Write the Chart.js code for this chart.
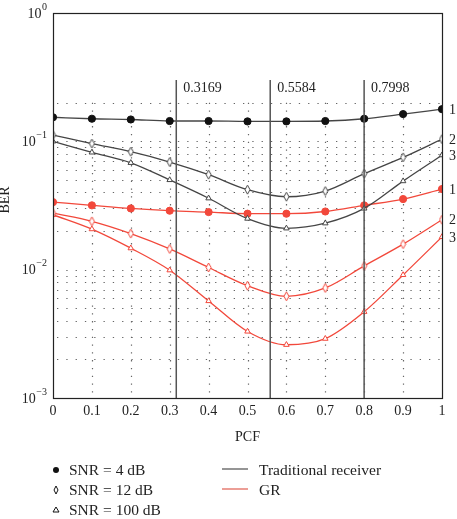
<!DOCTYPE html>
<html>
<head>
<meta charset="utf-8">
<style>
  html, body { margin: 0; padding: 0; background: #fff; }
  #wrap { width: 457px; height: 519px; position: relative; }
</style>
<script src="https://cdn.jsdelivr.net/npm/chart.js@4/dist/chart.umd.min.js"></script>
</head>
<body>
<div id="wrap"><canvas id="ber-chart" width="457" height="519"></canvas></div>
<script>
// --- Data ---
const pcf = [0, 0.1, 0.2, 0.3, 0.4, 0.5, 0.6, 0.7, 0.8, 0.9, 1];

// Traditional receiver
const trSnr4 = [0.154, 0.150, 0.148, 0.144, 0.144, 0.143, 0.143, 0.144, 0.150, 0.163, 0.178];
const trSnr12 = [0.112, 0.096, 0.083, 0.069, 0.055, 0.042, 0.037, 0.041, 0.056, 0.075, 0.104];
const trSnr100 = [0.100, 0.082, 0.068, 0.050, 0.036, 0.025, 0.021, 0.023, 0.030, 0.049, 0.078];

// GR
const grSnr4 = [0.0336, 0.0317, 0.0300, 0.0288, 0.0281, 0.0273, 0.0273, 0.0284, 0.0317, 0.0355, 0.0425];
const grSnr12 = [0.0276, 0.0238, 0.0191, 0.0145, 0.0104, 0.0075, 0.0062, 0.0072, 0.0107, 0.0158, 0.0245];
const grSnr100 = [0.0268, 0.0207, 0.0147, 0.0099, 0.0057, 0.0033, 0.0026, 0.0029, 0.0047, 0.0091, 0.0180];

// Optimal PCF markers
const optPcf = [0.3169, 0.5584, 0.7998];
const optSpan = [0.3, 0.001];

// Tick / grid values
const xTicks = [0, 0.1, 0.2, 0.3, 0.4, 0.5, 0.6, 0.7, 0.8, 0.9, 1];
const yDecades = [0, -1, -2, -3];
const gridRows = [0.2, 0.1, 0.09, 0.08, 0.07, 0.06, 0.05, 0.04, 0.03, 0.02, 0.01,
                  0.009, 0.008, 0.007, 0.006, 0.005, 0.004, 0.003, 0.002];
const gridCols = [0.1, 0.2, 0.3, 0.4, 0.5, 0.6, 0.7, 0.8, 0.9];

const TR_COLOR = '#454545';
const GR_COLOR = '#f2483b';
const SERIF = '"Liberation Serif", "DejaVu Serif", serif';

// narrow hollow diamond marker, like the one in the figure
function diamondMarker(color) {
    const c = document.createElement('canvas');
    c.width = 7; c.height = 11;
    const g = c.getContext('2d');
    g.fillStyle = '#fff';
    g.strokeStyle = color;
    g.lineWidth = 1;
    g.beginPath();
    g.moveTo(3.5, 1); g.lineTo(6, 5.5); g.lineTo(3.5, 10); g.lineTo(1, 5.5);
    g.closePath();
    g.fill(); g.stroke();
    return c;
}

function toPoints(ys) {
    return pcf.map((x, i) => ({ x: x, y: ys[i] }));
}

function series(ys, color, markColor, style, filled, tag) {
    return {
        data: toPoints(ys),
        borderColor: color,
        borderWidth: 1.3,
        pointStyle: style,
        pointRadius: style === 'circle' ? 3.6 : 3.2,
        pointBorderWidth: 1,
        pointBorderColor: markColor,
        pointBackgroundColor: filled ? markColor : '#ffffff',
        cubicInterpolationMode: 'monotone',
        fill: false,
        endTag: tag
    };
}

const optDatasets = optPcf.map(v => ({
    data: optSpan.map(y => ({ x: v, y: y })),
    borderColor: '#555555',
    borderWidth: 1.5,
    pointRadius: 0,
    optLabel: v.toFixed(4)
}));

// Dotted grid, plot frame, labels, legend
const decorPlugin = {
    id: 'decor',
    beforeDatasetsDraw(chart) {
        const { ctx, chartArea: a, scales: { x, y } } = chart;
        ctx.save();
        ctx.strokeStyle = '#666';
        ctx.lineWidth = 1.2;
        ctx.setLineDash([1.3, 8]);
        gridRows.forEach(v => {
            const py = Math.round(y.getPixelForValue(v)) + 0.5;
            ctx.beginPath();
            ctx.moveTo(a.left + 4, py);
            ctx.lineTo(a.right, py);
            ctx.stroke();
        });
        ctx.setLineDash([1.3, 6.5]);
        const top = y.getPixelForValue(gridRows[0]);
        gridCols.forEach(v => {
            const px = Math.round(x.getPixelForValue(v)) + 0.5;
            ctx.beginPath();
            ctx.moveTo(px, top);
            ctx.lineTo(px, a.bottom);
            ctx.stroke();
        });
        ctx.restore();
    },
    afterDatasetsDraw(chart) {
        const { ctx, chartArea: a, scales: { x, y } } = chart;
        ctx.save();
        // frame
        ctx.strokeStyle = '#222';
        ctx.lineWidth = 1.2;
        ctx.strokeRect(a.left + 0.5, a.top + 0.5, a.right - a.left, a.bottom - a.top);

        ctx.fillStyle = '#222';
        ctx.font = '14px ' + SERIF;
        ctx.textBaseline = 'middle';

        // optimal PCF labels
        chart.data.datasets.forEach(ds => {
            if (!ds.optLabel) return;
            const px = x.getPixelForValue(ds.data[0].x);
            const py = y.getPixelForValue(ds.data[0].y);
            ctx.textAlign = 'left';
            ctx.fillText(ds.optLabel, px + 7, py + 8);
        });

        // end tags 1/2/3
        chart.data.datasets.forEach(ds => {
            if (!ds.endTag) return;
            const last = ds.data[ds.data.length - 1];
            ctx.textAlign = 'left';
            ctx.fillText(ds.endTag, a.right + 7, y.getPixelForValue(last.y) + 1);
        });

        // y tick labels 10^k
        yDecades.forEach(k => {
            const py = y.getPixelForValue(Math.pow(10, k));
            const sup = k === 0 ? '0' : '\u2212' + (-k);
            ctx.font = '10px ' + SERIF;
            const sw = ctx.measureText(sup).width;
            ctx.textAlign = 'left';
            const right = a.left - 6;
            ctx.fillText(sup, right - sw, py - 6);
            ctx.font = '14px ' + SERIF;
            ctx.textAlign = 'right';
            ctx.fillText('10', right - sw - 0.5, py + 1);
        });

        // axis titles
        ctx.font = '14px ' + SERIF;
        ctx.textAlign = 'center';
        ctx.fillText('PCF', (a.left + a.right) / 2, 437);
        ctx.save();
        ctx.translate(5, 200);
        ctx.rotate(-Math.PI / 2);
        ctx.fillText('BER', 0, 0);
        ctx.restore();

        // legend
        const rows = [478, 498, 518];
        const mx = 56;
        ctx.fillStyle = '#111';
        ctx.strokeStyle = '#111';
        ctx.lineWidth = 1;
        ctx.setLineDash([]);
        ctx.beginPath();
        ctx.arc(mx, rows[0] - 8, 3, 0, Math.PI * 2);
        ctx.fill();
        ctx.beginPath();
        ctx.moveTo(mx, rows[1] - 12); ctx.lineTo(mx + 2, rows[1] - 8);
        ctx.lineTo(mx, rows[1] - 4); ctx.lineTo(mx - 2, rows[1] - 8);
        ctx.closePath(); ctx.stroke();
        ctx.beginPath();
        ctx.moveTo(mx, rows[2] - 11); ctx.lineTo(mx + 3, rows[2] - 6);
        ctx.lineTo(mx - 3, rows[2] - 6);
        ctx.closePath(); ctx.stroke();

        ctx.font = '15.5px ' + SERIF;
        ctx.textAlign = 'left';
        ctx.textBaseline = 'alphabetic';
        ctx.fillStyle = '#222';
        ['SNR = 4 dB', 'SNR = 12 dB', 'SNR = 100 dB'].forEach((t, i) => {
            ctx.fillText(t, 69, rows[i] - 3);
        });
        ctx.lineWidth = 1.6;
        ctx.strokeStyle = '#7a7a7a';
        ctx.beginPath(); ctx.moveTo(222, rows[0] - 9); ctx.lineTo(248, rows[0] - 9); ctx.stroke();
        ctx.strokeStyle = '#e8867c';
        ctx.beginPath(); ctx.moveTo(222, rows[1] - 9); ctx.lineTo(248, rows[1] - 9); ctx.stroke();
        ctx.fillText('Traditional receiver', 259, rows[0] - 3);
        ctx.fillText('GR', 259, rows[1] - 3);
        ctx.restore();
    }
};

new Chart(document.getElementById('ber-chart'), {
    type: 'line',
    data: {
        datasets: [
            ...optDatasets,
            series(trSnr4, TR_COLOR, '#111111', 'circle', true, '1'),
            series(trSnr12, TR_COLOR, TR_COLOR, diamondMarker(TR_COLOR), false, '2'),
            series(trSnr100, TR_COLOR, TR_COLOR, 'triangle', false, '3'),
            series(grSnr4, GR_COLOR, GR_COLOR, 'circle', true, '1'),
            series(grSnr12, GR_COLOR, GR_COLOR, diamondMarker(GR_COLOR), false, '2'),
            series(grSnr100, GR_COLOR, GR_COLOR, 'triangle', false, '3')
        ]
    },
    options: {
        responsive: false,
        animation: false,
        layout: { padding: { top: 13, right: 15, left: 0, bottom: 0 } },
        plugins: { legend: { display: false }, tooltip: { enabled: false } },
        scales: {
            x: {
                type: 'linear',
                min: 0,
                max: 1,
                afterBuildTicks: (s) => { s.ticks = xTicks.map(v => ({ value: v })); },
                afterFit: (s) => { s.height = 121; },
                grid: { display: false, drawTicks: false },
                border: { display: false },
                ticks: {
                    padding: 5,
                    color: '#222',
                    font: { family: SERIF, size: 14 },
                    maxRotation: 0,
                    callback: (v) => String(Number(v.toFixed(1)))
                }
            },
            y: {
                type: 'logarithmic',
                min: 0.001,
                max: 1,
                afterFit: (s) => { s.width = 53; },
                grid: { display: false, drawTicks: false },
                border: { display: false },
                ticks: { display: false }
            }
        }
    },
    plugins: [decorPlugin]
});
</script>
</body>
</html>
